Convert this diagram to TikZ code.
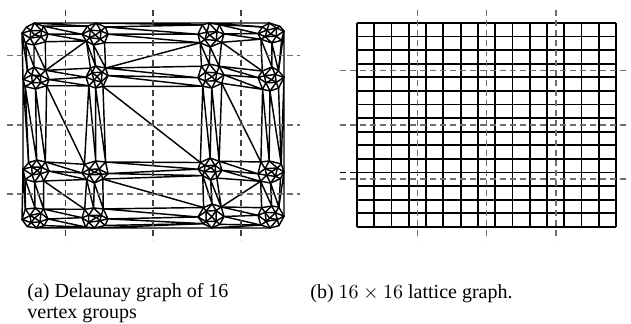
\documentclass[tikz,border=0pt]{standalone}
\usepackage{fontspec}
\setmainfont{Liberation Serif}
\usepackage{tikz}
\usetikzlibrary{calc}
\definecolor{cutgray}{HTML}{6E6E6E}
\tikzset{
  meshedge/.style={line width=0.72pt, black, line join=round, line cap=round},
  gridedge/.style={line width=0.9pt, black},
  cutline/.style={line width=0.55pt, color=#1, dash pattern=on 3pt off 2pt},
  cutline/.default=cutgray,
  captext/.style={font=\fontsize{10}{10.6}\selectfont, inner sep=0pt},
}

\begin{document}
\begin{tikzpicture}[x=0.5pt, y=-0.5pt]
  \useasboundingbox (0,0) rectangle (631,324);
  \pgfmathsetseed{11}

  % ── vertex groups of the Delaunay graph ──
  \foreach \i/\j/\cx/\cy/\hw/\hh in {
      1/1/35/34/13/11, 1/2/95/34/13/11, 1/3/211/35/13/12, 1/4/271/33/13/10,
      2/1/36/78/13/11, 2/2/97/77/11/11, 2/3/211/76/13/12, 2/4/271/79/13/12,
      3/1/36/171/13/11, 3/2/95/172/13/11, 3/3/210/169/12/11, 3/4/271/172/13/11,
      4/1/35/218/13/10, 4/2/95/218/13/10, 4/3/211/216/13/12, 4/4/271/217/13/11}{
    \coordinate (v\i\j-E)  at ({\cx+\hw},{\cy+2*rand});
    \coordinate (v\i\j-N)  at ({\cx+2*rand},{\cy-\hh});
    \coordinate (v\i\j-W)  at ({\cx-\hw},{\cy+2*rand});
    \coordinate (v\i\j-S)  at ({\cx+2*rand},{\cy+\hh});
    \coordinate (v\i\j-NE) at ({\cx+0.7*\hw+1.8*rand},{\cy-0.75*\hh+1.8*rand});
    \coordinate (v\i\j-NW) at ({\cx-0.7*\hw+1.8*rand},{\cy-0.75*\hh+1.8*rand});
    \coordinate (v\i\j-SW) at ({\cx-0.7*\hw+1.8*rand},{\cy+0.75*\hh+1.8*rand});
    \coordinate (v\i\j-SE) at ({\cx+0.7*\hw+1.8*rand},{\cy+0.75*\hh+1.8*rand});
    \coordinate (v\i\j-a)  at ({\cx+0.4*\hw+1.5*rand},{\cy-0.35*\hh+1.5*rand});
    \coordinate (v\i\j-b)  at ({\cx-0.4*\hw+1.5*rand},{\cy-0.35*\hh+1.5*rand});
    \coordinate (v\i\j-c)  at ({\cx-0.4*\hw+1.5*rand},{\cy+0.35*\hh+1.5*rand});
    \coordinate (v\i\j-d)  at ({\cx+0.4*\hw+1.5*rand},{\cy+0.35*\hh+1.5*rand});
    \coordinate (v\i\j-o)  at ({\cx+1.5*rand},{\cy+1.5*rand});
    \draw[meshedge] (v\i\j-E) -- (v\i\j-NE) -- (v\i\j-N) -- (v\i\j-NW)
      -- (v\i\j-W) -- (v\i\j-SW) -- (v\i\j-S) -- (v\i\j-SE) -- cycle;
    \draw[meshedge] (v\i\j-a) -- (v\i\j-b) -- (v\i\j-c) -- (v\i\j-d) -- cycle;
    \draw[meshedge] (v\i\j-o) -- (v\i\j-a) (v\i\j-o) -- (v\i\j-b)
      (v\i\j-o) -- (v\i\j-c) (v\i\j-o) -- (v\i\j-d);
    \draw[meshedge] (v\i\j-a) -- (v\i\j-E) (v\i\j-a) -- (v\i\j-NE)
      (v\i\j-a) -- (v\i\j-N) (v\i\j-b) -- (v\i\j-N) (v\i\j-b) -- (v\i\j-NW)
      (v\i\j-b) -- (v\i\j-W) (v\i\j-c) -- (v\i\j-W) (v\i\j-c) -- (v\i\j-SW)
      (v\i\j-c) -- (v\i\j-S) (v\i\j-d) -- (v\i\j-S) (v\i\j-d) -- (v\i\j-SE)
      (v\i\j-d) -- (v\i\j-E);
  }

  % strips between groups side by side
  \foreach \i in {1,...,4}{
    \foreach \j [evaluate=\j as \k using int(\j+1)] in {1,2,3}{
      \draw[meshedge] (v\i\j-NE) -- (v\i\k-NW) (v\i\j-NE) -- (v\i\k-W)
        (v\i\j-E) -- (v\i\k-W) (v\i\j-E) -- (v\i\k-SW) (v\i\j-SE) -- (v\i\k-SW);
    }
  }
  % strips between groups one above the other
  \foreach \j in {1,...,4}{
    \foreach \i [evaluate=\i as \m using int(\i+1)] in {1,2,3}{
      \draw[meshedge] (v\i\j-SW) -- (v\m\j-NW) (v\i\j-SW) -- (v\m\j-N)
        (v\i\j-S) -- (v\m\j-N) (v\i\j-S) -- (v\m\j-NE) (v\i\j-SE) -- (v\m\j-NE);
    }
  }
  % outer hull
  \foreach \j [evaluate=\j as \k using int(\j+1)] in {1,2,3}{
    \draw[meshedge] (v1\j-N) -- (v1\k-NW) (v1\j-N) -- (v1\k-N);
    \draw[meshedge] (v4\j-S) -- (v4\k-SW) (v4\j-S) -- (v4\k-S);
  }
  \foreach \i [evaluate=\i as \m using int(\i+1)] in {1,2,3}{
    \draw[meshedge] (v\i1-W) -- (v\m1-NW) (v\i1-W) -- (v\m1-W);
    \draw[meshedge] (v\i4-E) -- (v\m4-NE) (v\i4-E) -- (v\m4-E);
  }
  % gaps between four groups
  \foreach \i/\j/\d in {1/1/1, 1/2/1, 1/3/0, 2/1/0, 2/2/0, 2/3/0, 3/1/0, 3/2/0, 3/3/1}{
    \pgfmathtruncatemacro\m{\i+1}
    \pgfmathtruncatemacro\k{\j+1}
    \ifnum\d=0
      \draw[meshedge] (v\i\j-SE) -- (v\m\k-NW);
    \else
      \draw[meshedge] (v\i\k-SW) -- (v\m\j-NE);
    \fi
  }

  % ── 16 x 16 lattice ──
  \foreach \k in {0,...,15}{
    \coordinate (lt\k) at ({357+\k*259/15},23);
    \coordinate (lb\k) at ({357+\k*259/15},227);
    \coordinate (ll\k) at (357,{23+\k*204/15});
    \coordinate (lr\k) at (616,{23+\k*204/15});
    \draw[gridedge] (lt\k) -- (lb\k);
    \draw[gridedge] (ll\k) -- (lr\k);
  }

  % partition cuts
  \foreach \x in {65.7,153,241} \draw[cutline=black!75] (\x,10) -- (\x,240);
  \foreach \y in {55.3,125,194} \draw[cutline] (7,\y) -- (300,\y);
  \foreach \x in {417.7,486.7,556} \draw[cutline] (\x,10) -- (\x,240);
  \foreach \y in {70.7,125,179} \draw[cutline] (340,\y) -- (628,\y);
  \draw[cutline=black] (340,172.3) -- (357,172.3);

  % captions
  \node[captext, anchor=north west, text width=100.5pt, align=justify] (capa)
    at (27,283) {(a) Delaunay graph of 16\linebreak vertex groups};
  \node[captext, anchor=base west] (capb) at (310,299)
    {(b) $16\times16$ lattice graph.};
\end{tikzpicture}
\end{document}
